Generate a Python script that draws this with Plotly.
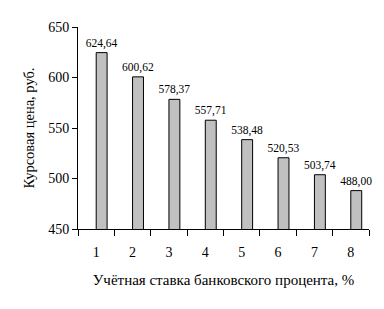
import plotly.graph_objects as go

categories = [1, 2, 3, 4, 5, 6, 7, 8]
values = [624.64, 600.62, 578.37, 557.71, 538.48, 520.53, 503.74, 488.00]
labels = ["624,64", "600,62", "578,37", "557,71", "538,48", "520,53", "503,74", "488,00"]
y_ticks = [450, 500, 550, 600, 650]

font_family = "Liberation Serif, Times New Roman, serif"

fig = go.Figure(go.Bar(
    x=categories, y=values, text=labels, textposition="outside",
    constraintext="none",
    textfont=dict(family=font_family, size=11.5, color="black"),
    marker=dict(color="#C0C0C0", line=dict(color="black", width=1)),
    offset=0.0, width=0.3, cliponaxis=False,
))

fig.update_layout(
    width=384, height=309,
    margin=dict(l=78, r=15, t=27, b=80),
    paper_bgcolor="white", plot_bgcolor="white",
    showlegend=False,
    font=dict(family=font_family, size=14, color="black"),
)
fig.update_xaxes(
    range=[0.5, 8.5], tickvals=categories, ticktext=[str(c) for c in categories],
    ticks="outside", ticklen=10, tickcolor="rgba(0,0,0,0)",
    minor=dict(tick0=0.5, dtick=1, ticks="outside", ticklen=6, tickcolor="black", tickwidth=1),
    showline=True, linecolor="black", linewidth=1, showgrid=False, zeroline=False,
    tickfont=dict(family=font_family, size=14, color="black"),
    title=dict(text="Учётная ставка банковского процента, %", standoff=15,
               font=dict(family=font_family, size=15)),
)
fig.update_yaxes(
    range=[450, 650], tickvals=y_ticks,
    ticks="outside", ticklen=5, tickcolor="black",
    showline=True, linecolor="black", linewidth=1, showgrid=False, zeroline=False,
    tickfont=dict(family=font_family, size=14, color="black"),
    title=dict(text="Курсовая цена, руб.", standoff=10,
               font=dict(family=font_family, size=14.5)),
)

fig.write_html("out.html")
